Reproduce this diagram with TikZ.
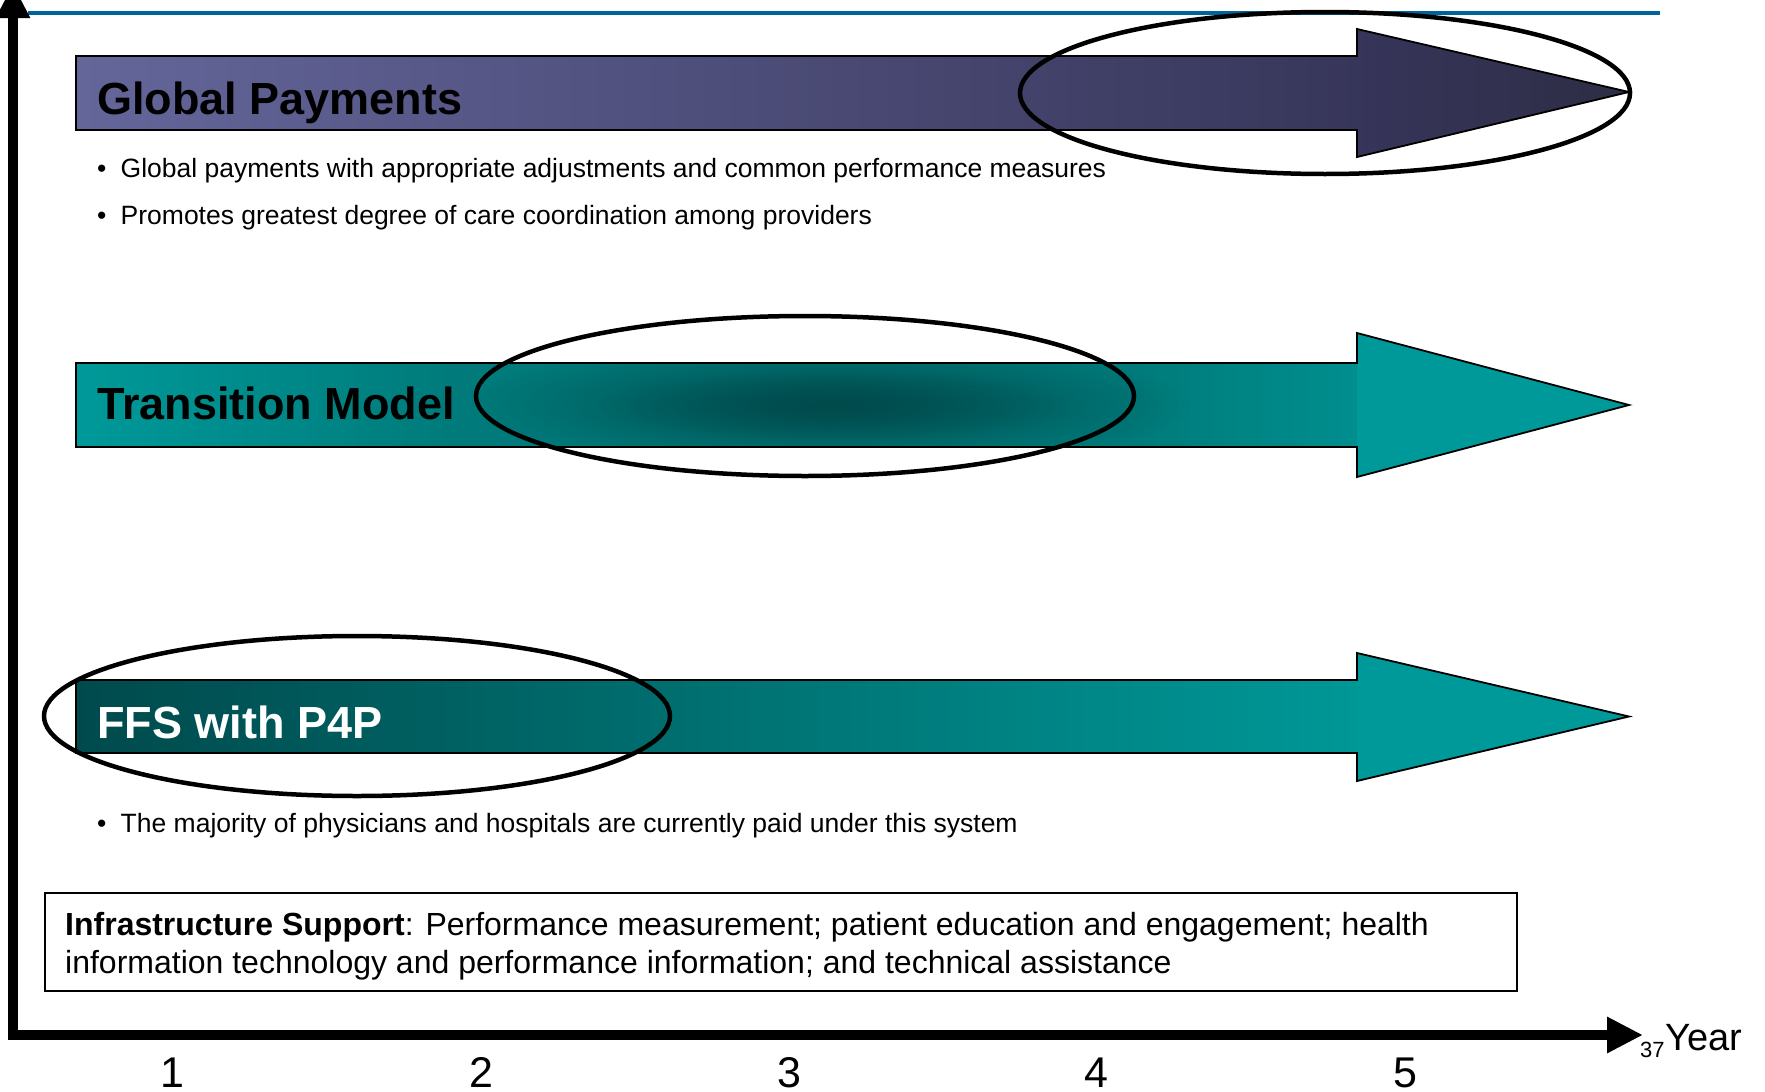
\documentclass[tikz,border=0pt]{standalone}
\usepackage{fontspec}
\setmainfont{Liberation Sans}
\usetikzlibrary{arrows.meta,fadings}

\definecolor{ruleblue}{RGB}{0,99,155}
\definecolor{gpLeft}{HTML}{64669A}
\definecolor{gpMid}{HTML}{4D4D76}
\definecolor{gpRight}{HTML}{37365A}
\definecolor{gpHeadL}{HTML}{36355A}
\definecolor{gpHeadR}{HTML}{2E2D45}
\definecolor{tealA}{HTML}{009999}
\definecolor{tealB}{HTML}{007A7A}
\definecolor{tealC}{HTML}{008E8E}
\definecolor{tealDark}{HTML}{004A4C}
\definecolor{ffsLeft}{HTML}{004A4C}
\definecolor{ffsMid}{HTML}{006767}
\definecolor{ffsRight}{HTML}{009797}

% band across the body of the transition arrow
\pgfdeclarehorizontalshading{tmband}{100bp}{color(0bp)=(tealA); color(25bp)=(tealA); color(40bp)=(tealB); color(66bp)=(tealB); color(75bp)=(tealC); color(100bp)=(tealC)}
\tikzfading[name=blobfade, inner color=transparent!0, outer color=transparent!100]

\tikzset{
  outline/.style={draw=black, line width=1.8pt, line join=miter},
  ring/.style={draw=black, line width=4.5pt},
  axisline/.style={draw=black, line width=10pt, line join=miter},
  barlabel/.style={anchor=base west, inner sep=0pt, font=\fontsize{45}{54}\selectfont\bfseries},
  bullet/.style={anchor=base west, inner sep=0pt, font=\fontsize{26.5}{32}\selectfont},
  infotext/.style={anchor=base west, inner sep=0pt, font=\fontsize{32}{38}\selectfont},
  yearnum/.style={anchor=base, inner sep=0pt, font=\fontsize{43}{50}\selectfont},
}

\begin{document}
\begin{tikzpicture}[x=1pt,y=-1pt]
\useasboundingbox (0,0) rectangle (1765,1092);

% top rule
\draw[ruleblue, line width=4pt] (28,13) -- (1660,13);

% ---------- Global Payments arrow ----------
\shade[left color=gpLeft, middle color=gpMid, right color=gpRight] (76,56) rectangle (1357,130);
\shade[left color=gpHeadL, right color=gpHeadR] (1357,29) -- (1629,92) -- (1357,157) -- cycle;
\draw[outline] (76,56) -- (1357,56) -- (1357,29) -- (1629,92) -- (1357,157) -- (1357,130) -- (76,130) -- cycle;
\node[barlabel] (gp) at (97,114) {Global Payments};
\draw[ring] (1325,93) ellipse [x radius=305, y radius=81];

\node[bullet] (gpb1) at (97,177) {•};
\node[bullet] (gpt1) at (120.5,177) {Global payments with appropriate adjustments and common performance measures};
\node[bullet] (gpb2) at (97,224) {•};
\node[bullet] (gpt2) at (120.5,224) {Promotes greatest degree of care coordination among providers};

% ---------- Transition Model arrow ----------
\shade[shading=tmband] (76,363) rectangle (1357,447);
\fill[tealA] (1357,333) -- (1629,405) -- (1357,477) -- cycle;
\begin{scope}
  \clip (76,363) rectangle (1357,447);
  \fill[tealDark, path fading=blobfade, fit fading=true] (470,340) rectangle (1190,470);
  \fill[tealDark, path fading=blobfade, fit fading=true, opacity=0.6] (600,370) rectangle (1080,440);
\end{scope}
\draw[outline] (76,363) -- (1357,363) -- (1357,333) -- (1629,405) -- (1357,477) -- (1357,447) -- (76,447) -- cycle;
\node[barlabel] (tm) at (97,419) {Transition Model};
\draw[ring] (805,396) ellipse [x radius=329, y radius=80];

% ---------- FFS with P4P arrow ----------
\shade[left color=ffsLeft, middle color=ffsMid, right color=ffsRight] (76,680) rectangle (1357,753);
\fill[tealA] (1357,653) -- (1629,716.5) -- (1357,781) -- cycle;
\draw[outline] (76,680) -- (1357,680) -- (1357,653) -- (1629,716.5) -- (1357,781) -- (1357,753) -- (76,753) -- cycle;
\node[barlabel, text=white] (ffs) at (97,738) {FFS with P4P};
\draw[ring] (357,716) ellipse [x radius=313, y radius=80];

\node[bullet] (ffsb) at (97,832) {•};
\node[bullet] (ffst) at (120.5,832) {The majority of physicians and hospitals are currently paid under this system};

% ---------- infrastructure box ----------
\draw[black, line width=2pt] (45,893) rectangle (1517,991);
\node[infotext] (inf1) at (65,935) {\textbf{Infrastructure Support}: Performance measurement; patient education and engagement; health};
\node[infotext] (inf2) at (65,973) {information technology and performance information; and technical assistance};

% ---------- axes ----------
\coordinate (ytip) at (13,-16);
\coordinate (corner) at (13,1035);
\coordinate (xtip) at (1643,1035);
\draw[axisline, {Triangle[length=34pt,width=32pt]}-{Triangle[length=36pt,width=34pt]}] (ytip) -- (corner) -- (xtip);

\node[anchor=base west, inner sep=0pt, font=\fontsize{22}{24}\selectfont] (pg) at (1640,1057) {37};
\node[anchor=base west, inner sep=0pt, font=\fontsize{38}{44}\selectfont] (yr) at (1665,1050) {Year};

\node[yearnum] (y1) at (172,1087) {1};
\node[yearnum] (y2) at (481,1087) {2};
\node[yearnum] (y3) at (789,1087) {3};
\node[yearnum] (y4) at (1096,1087) {4};
\node[yearnum] (y5) at (1405,1087) {5};
\end{tikzpicture}
\end{document}
